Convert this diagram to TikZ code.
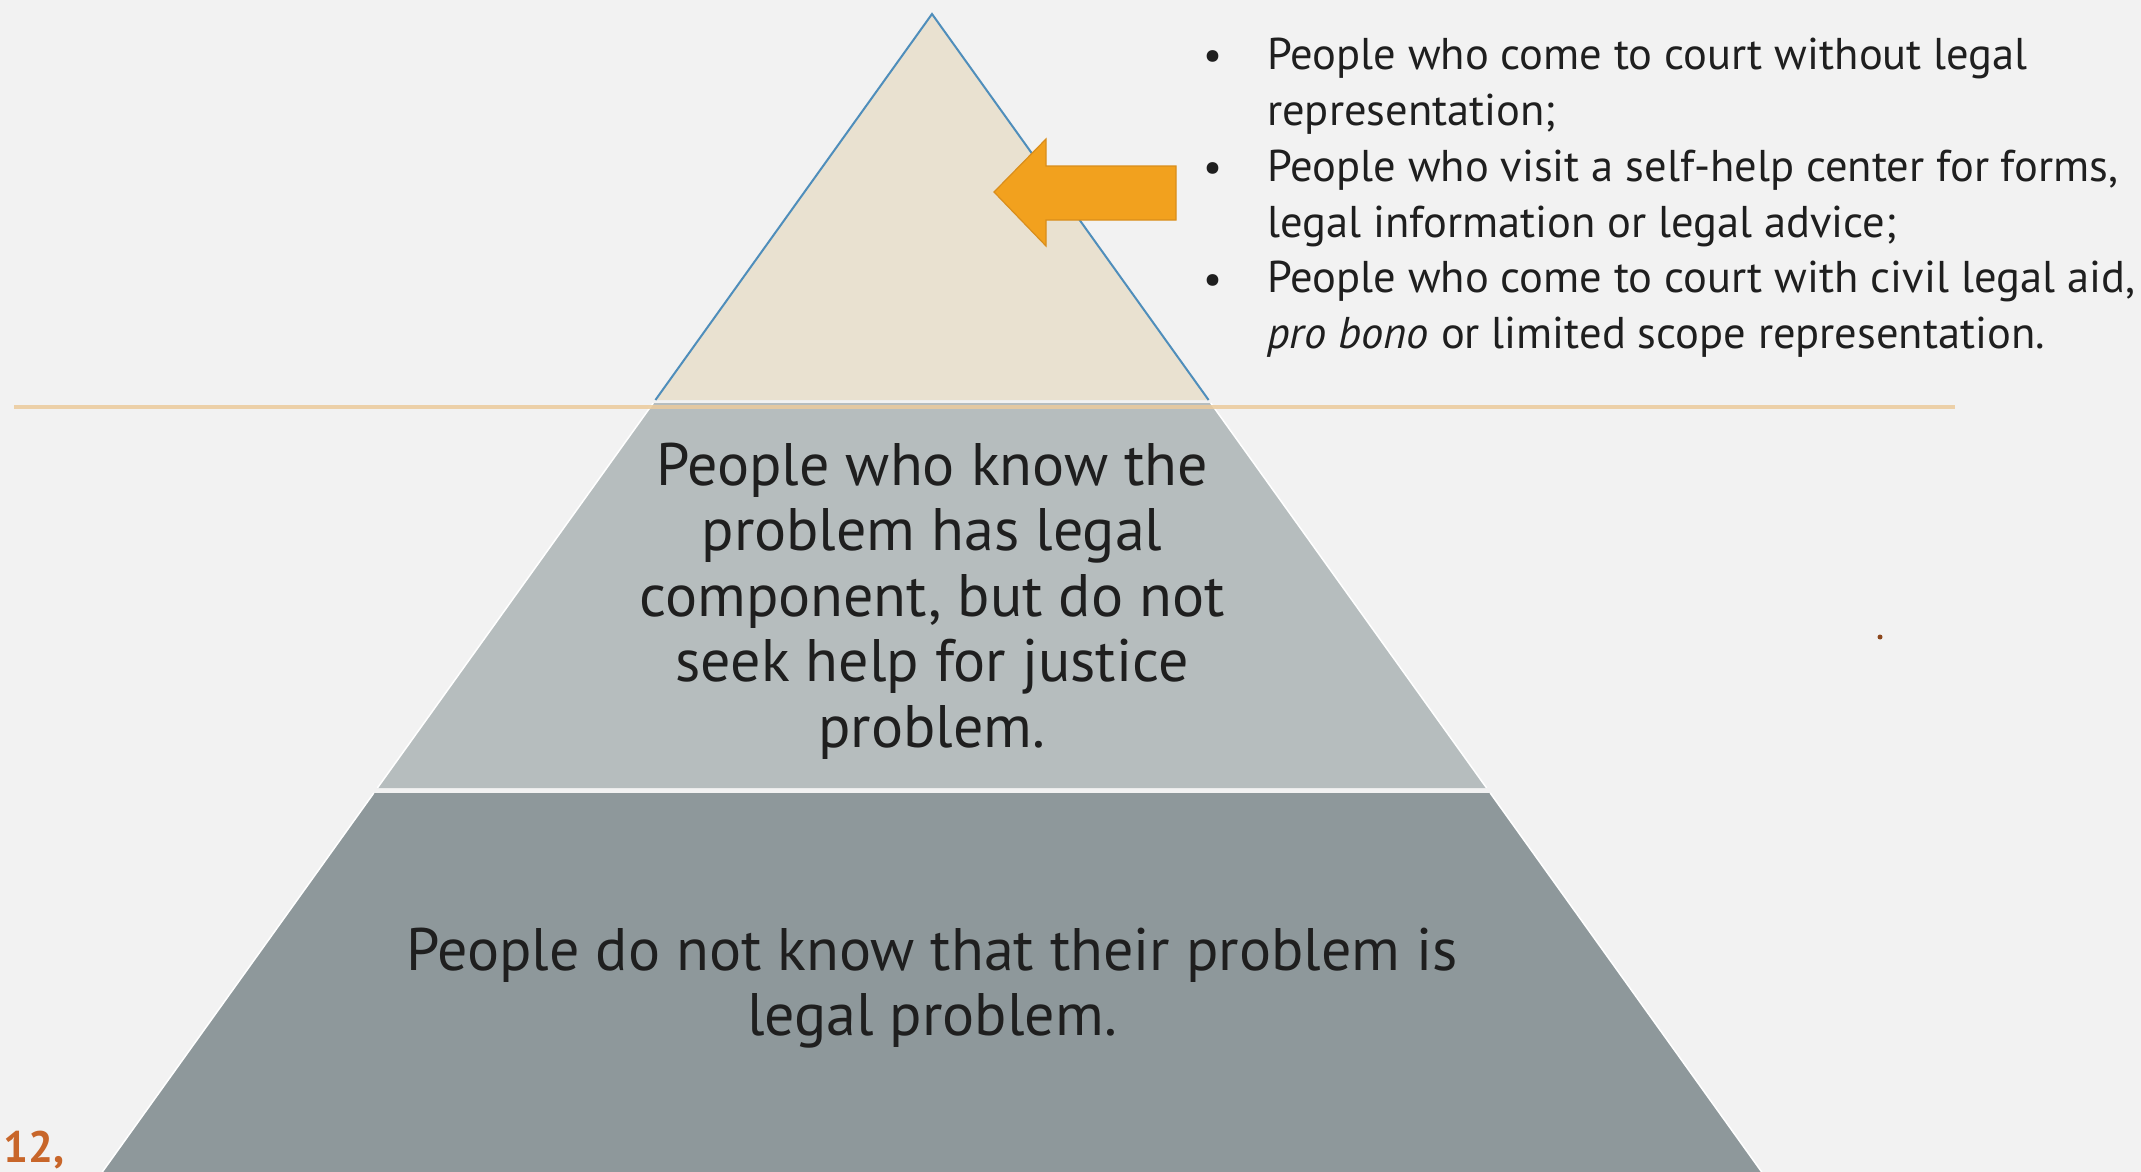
\documentclass[tikz,border=0pt]{standalone}
\usepackage{fontspec}
\setmainfont{PT Sans}
\begin{document}
\begin{tikzpicture}[x=1pt,y=-1pt,
  band/.style={draw=white,line width=1.5pt},
  bandtext/.style={align=center,text=black!88,inner sep=0pt},
  bullettext/.style={align=left,text=black!88,inner sep=0pt,anchor=north west},
  bulletdot/.style={text=black!88,inner sep=0pt}]
\definecolor{bg}{HTML}{F2F2F2}
\definecolor{topfill}{HTML}{E9E1D0}
\definecolor{midfill}{HTML}{B6BDBE}
\definecolor{botfill}{HTML}{8E989B}
\definecolor{edgeblue}{HTML}{4F8EBB}
\definecolor{tanline}{HTML}{EBCB9C}
\definecolor{arroworange}{HTML}{F2A11E}
\definecolor{arrowedge}{HTML}{D98E1C}
\definecolor{numorange}{HTML}{C8662A}
\useasboundingbox (0,0) rectangle (2141,1172);
\fill[bg] (0,0) rectangle (2141,1172);
% bands
\fill[botfill] (373.8,793) -- (1490.2,793) -- (1761.7,1172) -- (102.3,1172) -- cycle;
\draw[white,line width=1.5pt] (373.8,793) -- (102.3,1172) (1490.2,793) -- (1761.7,1172);
\fill[midfill] (653.3,403) -- (1210.7,403) -- (1486.6,788) -- (377.4,788) -- cycle;
\draw[white,line width=1.5pt] (653.3,403) -- (377.4,788) (1210.7,403) -- (1486.6,788);
\fill[topfill] (932,14) -- (1208.6,400) -- (655.4,400) -- cycle;
\draw[edgeblue,line width=2pt] (655.4,400) -- (932,14) -- (1208.6,400);
% tan line
\coordinate (tl) at (14,407);
\coordinate (tr) at (1955,407);
\draw[tanline,line width=4pt,opacity=0.85] (tl) -- (tr);
% arrow
\draw[fill=arroworange,draw=arrowedge,line width=1.2pt,line join=miter]
  (994,192) -- (1046,139) -- (1046,166) -- (1176,166) -- (1176,220) -- (1046,220) -- (1046,246) -- cycle;
% texts
\node[bandtext,font=\fontsize{60}{65.5}\selectfont] (mid) at (932,601)
  {People who know the\\problem has legal\\component, but do not\\seek help for justice\\problem.};
\node[bandtext,font=\fontsize{60}{65.5}\selectfont] (bot) at (932,988)
  {People do not know that their problem is\\legal problem.};
\node[bullettext,font=\fontsize{44.5}{55.8}\selectfont] (list) at (1267,38)
  {People who come to court without legal\\representation;\\People who visit a self-help center for forms,\\legal information or legal advice;\\People who come to court with civil legal aid,\\\textit{pro bono} or limited scope representation.};
\node[bulletdot,font=\fontsize{42}{42}\selectfont] (b1) at (1213,60) {•};
\node[bulletdot,font=\fontsize{42}{42}\selectfont] (b2) at (1213,172) {•};
\node[bulletdot,font=\fontsize{42}{42}\selectfont] (b3) at (1213,284) {•};
\node[text=numorange,font=\bfseries\fontsize{44}{44}\selectfont,anchor=west,inner sep=0pt] (num) at (3,1150) {12,};
\node[circle,fill=numorange!70!black,inner sep=0pt,minimum size=5pt] (dot) at (1880,637) {};
\end{tikzpicture}
\end{document}
